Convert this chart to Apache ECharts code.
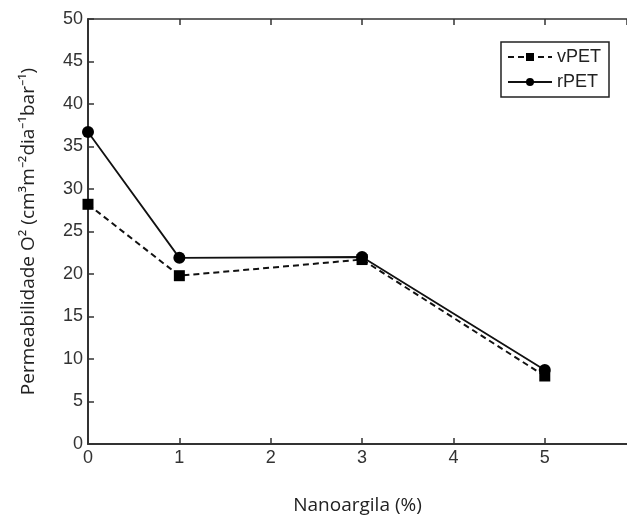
<!DOCTYPE html>
<html>
<head>
<meta charset="utf-8">
<script src="https://cdn.jsdelivr.net/npm/echarts@6/dist/echarts.min.js"></script>
<style>
  html, body { margin: 0; padding: 0; background: #fff; }
  #chart { width: 627px; height: 520px; }
</style>
</head>
<body>
<div id="chart"></div>
<script>
// nanoclay content (%)
var nanoclay = [0, 1, 3, 5];
var vPET = [28.2, 19.8, 21.7, 8.0];
var rPET = [36.7, 21.9, 22.0, 8.7];

var axisColor = '#333';
var labelFont = 'Liberation Sans';

function pairs(xs, ys) {
  return xs.map(function (x, i) { return [x, ys[i]]; });
}

var chart = echarts.init(document.getElementById('chart'));
chart.setOption({
  animation: false,
  grid: { left: 88, right: 0, top: 19, bottom: 76 },
  legend: {
    right: 18,
    top: 42,
    orient: 'vertical',
    itemWidth: 44,
    itemHeight: 10,
    itemGap: 7,
    padding: [6, 8, 6, 6],
    borderColor: '#222',
    borderWidth: 1.5,
    borderRadius: 0,
    textStyle: { fontFamily: labelFont, fontSize: 18, color: '#222' },
    data: ['vPET', 'rPET']
  },
  xAxis: [{
    type: 'value',
    min: 0,
    max: 5.9,
    interval: 1,
    name: 'Nanoargila (%)',
    nameLocation: 'middle',
    nameGap: 52,
    nameTextStyle: { fontFamily: 'Open Sans', fontSize: 19, color: '#222' },
    axisLine: { lineStyle: { color: axisColor, width: 2 } },
    axisTick: { inside: true, length: 6, lineStyle: { color: axisColor, width: 1.5 } },
    axisLabel: {
      showMaxLabel: false,
      margin: 5,
      fontFamily: labelFont, fontSize: 18, color: '#333'
    },
    splitLine: { show: false }
  }, {
    type: 'value',
    position: 'top',
    min: 0,
    max: 5.9,
    interval: 1,
    axisLine: { onZero: false, lineStyle: { color: axisColor, width: 1.5 } },
    axisTick: { inside: true, length: 6, lineStyle: { color: axisColor, width: 1.5 } },
    axisLabel: { show: false },
    splitLine: { show: false }
  }],
  yAxis: {
    type: 'value',
    min: 0,
    max: 50,
    interval: 5,
    name: 'Permeabilidade O² (cm³m⁻²dia⁻¹bar⁻¹)',
    nameLocation: 'middle',
    nameGap: 50,
    nameTextStyle: { fontFamily: 'Open Sans', fontSize: 19, color: '#222' },
    axisLine: { show: true, lineStyle: { color: axisColor, width: 2 } },
    axisTick: { show: true, inside: true, length: 6, lineStyle: { color: axisColor, width: 1.5 } },
    axisLabel: { margin: 5, fontFamily: labelFont, fontSize: 18, color: '#333' },
    splitLine: { show: false }
  },
  series: [{
    name: 'vPET',
    type: 'line',
    data: pairs(nanoclay, vPET),
    symbol: 'rect',
    symbolSize: 11,
    itemStyle: { color: '#000' },
    lineStyle: { color: '#111', width: 2, type: [6, 4] }
  }, {
    name: 'rPET',
    type: 'line',
    data: pairs(nanoclay, rPET),
    symbol: 'circle',
    symbolSize: 12,
    itemStyle: { color: '#000' },
    lineStyle: { color: '#111', width: 1.8 }
  }]
});
</script>
</body>
</html>
